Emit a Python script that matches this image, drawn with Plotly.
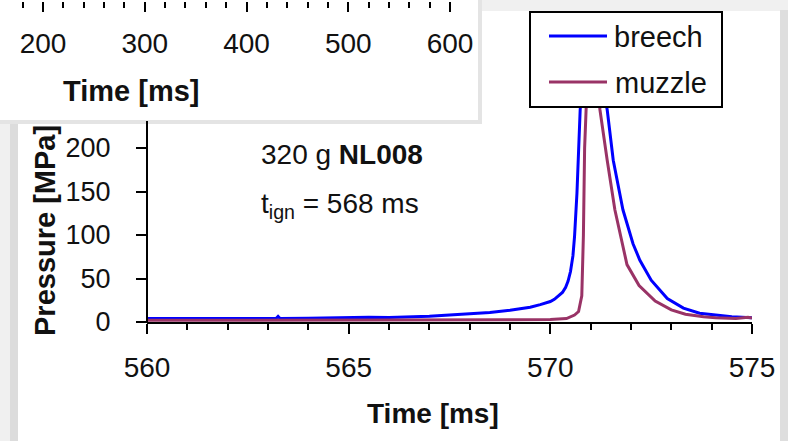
import plotly.graph_objects as go

W, H = 788, 441

# ---------------- data ----------------
t_breech = [560.0, 560.5, 561.0, 561.5, 562.0, 562.5, 563.0, 563.2, 563.25, 563.3,
            564.0, 564.6, 565.0, 565.5, 566.0, 566.5, 567.0, 567.5, 568.0, 568.5,
            569.0, 569.5, 569.75, 570.0, 570.1, 570.2, 570.3, 570.38, 570.44,
            570.5, 570.56, 570.6, 570.66, 570.74, 570.8, 570.9, 571.0, 571.1,
            571.2, 571.3, 571.41, 571.56, 571.8, 572.05, 572.22, 572.5, 572.9,
            573.3, 573.7, 574.1, 574.5, 575.0]
p_breech = [4.0, 4.0, 4.2, 4.0, 4.1, 4.0, 4.2, 4.0, 6.5, 4.1,
            4.3, 5.0, 5.0, 5.5, 5.2, 5.6, 6.5, 8.0, 9.5, 11.0,
            13.5, 17.0, 20.0, 23.5, 26.0, 29.5, 34.0, 40.0, 47.0,
            58.0, 76.0, 98.0, 148.0, 244.0, 290.0, 330.0, 340.0, 330.0,
            300.0, 270.0, 244.0, 186.0, 129.0, 90.0, 71.0, 48.0, 27.0,
            16.0, 10.0, 8.0, 6.0, 5.0]

t_muzzle = [560.0, 561.0, 562.0, 563.0, 564.0, 565.0, 566.0, 567.0, 568.0, 569.0,
            570.0, 570.4, 570.6, 570.7, 570.78, 570.82, 570.85, 570.88, 570.95,
            571.05, 571.12, 571.23, 571.41, 571.6, 571.9, 572.2, 572.6, 573.0,
            573.35, 573.8, 574.1, 574.6, 574.9, 575.0]
p_muzzle = [2.0, 2.0, 2.1, 2.0, 2.0, 2.1, 2.0, 2.2, 2.3, 2.5,
            3.0, 4.0, 8.0, 12.0, 30.0, 100.0, 200.0, 260.0, 320.0,
            340.0, 300.0, 244.0, 186.0, 129.0, 66.0, 42.0, 24.0, 14.0,
            9.0, 6.0, 5.0, 4.0, 5.5, 4.5]

series_names = ["breech", "muzzle"]
series_colors = ["#0000ff", "#993366"]

main_xticks = [560, 565, 570, 575]
main_yticks = [0, 50, 100, 150, 200]
inset_xticks = [200, 300, 400, 500, 600]

FONT = "Liberation Sans, Arial, sans-serif"
TXT = "#111111"


def px(x):
    return x / W


def py(y):
    return 1 - y / H


fig = go.Figure()

fig.add_trace(go.Scatter(x=t_breech, y=p_breech, mode="lines", name=series_names[0],
                         line=dict(color=series_colors[0], width=3), showlegend=False))
fig.add_trace(go.Scatter(x=t_muzzle, y=p_muzzle, mode="lines", name=series_names[1],
                         line=dict(color=series_colors[1], width=3), showlegend=False))
# inset axis (its plot area lies above the visible crop)
fig.add_trace(go.Scatter(x=[None], y=[None], xaxis="x2", yaxis="y2", showlegend=False,
                         hoverinfo="skip"))

shapes = []
# page background pieces
shapes.append(dict(type="rect", xref="paper", yref="paper", x0=px(10), x1=px(18),
                   y0=py(441), y1=py(10), fillcolor="#dcdcdc", line_width=0, layer="below"))
shapes.append(dict(type="rect", xref="paper", yref="paper", x0=px(780), x1=px(788),
                   y0=py(441), y1=py(10), fillcolor="#dedede", line_width=0, layer="below"))
# main white panel
shapes.append(dict(type="rect", xref="paper", yref="paper", x0=px(18), x1=px(780),
                   y0=py(441), y1=py(11), fillcolor="white", line_width=0, layer="below"))
# inset panel shadow + panel
shapes.append(dict(type="rect", xref="paper", yref="paper", x0=px(0), x1=px(482),
                   y0=py(124), y1=py(0), fillcolor="#e4e4e4", line_width=0, layer="below"))
shapes.append(dict(type="rect", xref="paper", yref="paper", x0=px(0), x1=px(478),
                   y0=py(120), y1=py(0), fillcolor="white", line_width=0, layer="below"))
# main y axis line (partly hidden by the inset)
shapes.append(dict(type="line", xref="paper", yref="paper", x0=px(147), x1=px(147),
                   y0=py(323), y1=py(121), line=dict(color="black", width=2)))
# legend box
shapes.append(dict(type="rect", xref="paper", yref="paper", x0=px(530), x1=px(722),
                   y0=py(107), y1=py(12), fillcolor="white",
                   line=dict(color="black", width=2)))
for i, yy in enumerate([36, 82]):
    shapes.append(dict(type="line", xref="paper", yref="paper", x0=px(549), x1=px(607),
                       y0=py(yy), y1=py(yy), line=dict(color=series_colors[i], width=3)))

annotations = []
annotations.append(dict(x=px(612), y=py(37), xref="paper", yref="paper", text=series_names[0],
                        showarrow=False, xanchor="left", yanchor="middle",
                        font=dict(family=FONT, size=29, color=TXT)))
annotations.append(dict(x=px(613), y=py(83), xref="paper", yref="paper", text=series_names[1],
                        showarrow=False, xanchor="left", yanchor="middle",
                        font=dict(family=FONT, size=29, color=TXT)))
annotations.append(dict(x=px(342), y=py(154), xref="paper", yref="paper",
                        text="320 g <b>NL008</b>", showarrow=False,
                        xanchor="center", yanchor="middle",
                        font=dict(family=FONT, size=28, color=TXT)))
annotations.append(dict(x=px(340), y=py(205), xref="paper", yref="paper",
                        text="t<sub>ign</sub> = 568 ms", showarrow=False,
                        xanchor="center", yanchor="middle",
                        font=dict(family=FONT, size=28, color=TXT)))
annotations.append(dict(x=px(433), y=py(413), xref="paper", yref="paper",
                        text="<b>Time [ms]</b>", showarrow=False,
                        xanchor="center", yanchor="middle",
                        font=dict(family=FONT, size=28, color=TXT)))
annotations.append(dict(x=px(45), y=py(231), xref="paper", yref="paper",
                        text="<b>Pressure [MPa]</b>", showarrow=False, textangle=-90,
                        xanchor="center", yanchor="middle",
                        font=dict(family=FONT, size=29, color=TXT)))
annotations.append(dict(x=px(131), y=py(91), xref="paper", yref="paper",
                        text="<b>Time [ms]</b>", showarrow=False,
                        xanchor="center", yanchor="middle",
                        font=dict(family=FONT, size=29, color=TXT)))

fig.update_layout(
    width=W, height=H, autosize=False,
    margin=dict(l=0, r=0, t=0, b=0, pad=0, autoexpand=False),
    paper_bgcolor="#f0f0f0", plot_bgcolor="rgba(0,0,0,0)",
    showlegend=False,
    shapes=shapes, annotations=annotations,
    xaxis=dict(domain=[px(147), px(752)], range=[560, 575], tickvals=main_xticks,
               ticks="outside", ticklen=10, tickwidth=2, tickcolor="black",
               minor=dict(dtick=1, ticks="outside", ticklen=6, tickwidth=2, tickcolor="black"),
               showline=True, linecolor="black", linewidth=2, showgrid=False, zeroline=False,
               ticklabelstandoff=9, automargin=False,
               tickfont=dict(family=FONT, size=28, color=TXT), anchor="y"),
    yaxis=dict(domain=[py(322), py(108)], range=[0, 246], tickvals=main_yticks,
               ticks="outside", ticklen=10, tickwidth=2, tickcolor="black",
               showline=False, showgrid=False, zeroline=False,
               ticklabelstandoff=20, automargin=False,
               tickfont=dict(family=FONT, size=27, color=TXT), anchor="x"),
    xaxis2=dict(domain=[px(7.4), px(465.3)], range=[165, 615], tickvals=inset_xticks,
                ticks="outside", ticklen=10, tickwidth=2, tickcolor="black",
                minor=dict(dtick=20, ticks="outside", ticklen=6, tickwidth=2, tickcolor="black"),
                showline=False, showgrid=False, zeroline=False,
                ticklabelstandoff=7, automargin=False,
                tickfont=dict(family=FONT, size=28, color=TXT), anchor="y2"),
    yaxis2=dict(domain=[0.997, 1.0], range=[0, 1], visible=False, anchor="x2",
                automargin=False),
)

fig.write_html("out.html")
